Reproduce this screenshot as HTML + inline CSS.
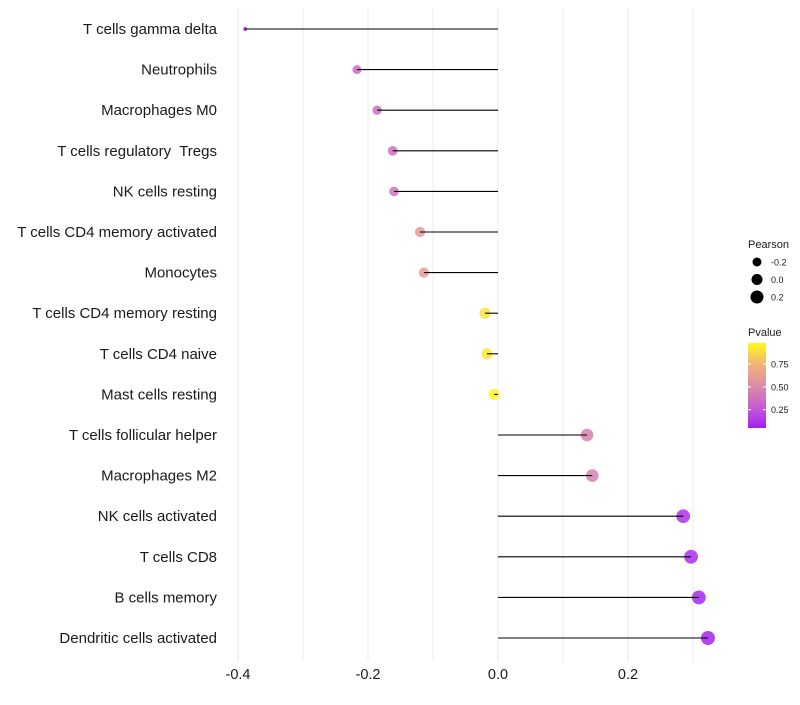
<!DOCTYPE html>
<html><head><meta charset="utf-8"><style>
body{margin:0;background:#fff;font-family:"Liberation Sans",sans-serif}
text{white-space:pre}
</style></head><body>
<svg id="chart" width="800" height="700" xmlns="http://www.w3.org/2000/svg" font-family="Liberation Sans, sans-serif"></svg>
<script>
const categories=["T cells gamma delta","Neutrophils","Macrophages M0","T cells regulatory  Tregs","NK cells resting","T cells CD4 memory activated","Monocytes","T cells CD4 memory resting","T cells CD4 naive","Mast cells resting","T cells follicular helper","Macrophages M2","NK cells activated","T cells CD8","B cells memory","Dendritic cells activated"];
const pearson=[-0.389,-0.217,-0.186,-0.162,-0.160,-0.120,-0.114,-0.020,-0.017,-0.006,0.137,0.145,0.285,0.297,0.309,0.323];
const pvalue=[0.05,0.33,0.36,0.37,0.39,0.6,0.63,0.9,0.92,0.97,0.45,0.45,0.12,0.1,0.08,0.06];
const xTicks=[-0.4,-0.2,0.0,0.2];
const xTickLabels=["-0.4","-0.2","0.0","0.2"];
const gridVals=[-0.4,-0.3,-0.2,-0.1,0,0.1,0.2,0.3];
const sizeLegend=[-0.2,0.0,0.2];
const colorLegend=[0.25,0.5,0.75];

const svg=document.getElementById('chart');
const NS="http://www.w3.org/2000/svg";
function mk(t,a,p){const e=document.createElementNS(NS,t);for(const k in a)e.setAttribute(k,a[k]);(p||svg).appendChild(e);return e;}
const x=v=>498+650*v;
const y=i=>29+i*40.6;
const pmin=Math.min(...pearson),pmax=Math.max(...pearson);
const r=v=>{const t=Math.max(0,(v-pmin)/(pmax-pmin));return 2+5*Math.sqrt(t);};
const stops=[[0.05,[160,32,240]],[0.25,[196,86,214]],[0.5,[218,138,170]],[0.75,[240,180,120]],[0.98,[255,250,30]]];
function col(p){if(p<=stops[0][0])return `rgb(${stops[0][1]})`;for(let i=1;i<stops.length;i++){if(p<=stops[i][0]){const a=stops[i-1],b=stops[i],t=(p-a[0])/(b[0]-a[0]);return `rgb(${a[1].map((c,j)=>Math.round(c+(b[1][j]-c)*t))})`;}}return `rgb(${stops[4][1]})`;}
const py=cy=>343+(0.98-cy)/(0.93)*85;

gridVals.forEach(g=>{const l=mk('line',{x1:x(g),x2:x(g),y1:8,y2:662,stroke:'#ebebeb','stroke-width':1});
});
categories.forEach((c,i)=>{
 const t=mk('text',{x:217,y:y(i)+5,'text-anchor':'end','font-size':15,fill:'#1a1a1a'});t.textContent=c;
 
 const p=mk('circle',{cx:x(pearson[i]),cy:y(i),r:r(pearson[i]),fill:col(pvalue[i]),'fill-opacity':0.85});
 
 const l=mk('line',{x1:x(0),x2:x(pearson[i]),y1:y(i),y2:y(i),stroke:'#000','stroke-width':1.1});
 
});
xTicks.forEach((v,i)=>{const t=mk('text',{x:x(v),y:679,'text-anchor':'middle','font-size':14.5,fill:'#1a1a1a'});t.textContent=xTickLabels[i];
});
// size legend
let t=mk('text',{x:748,y:248,'font-size':11,fill:'#1a1a1a'});t.textContent='Pearson';

const lr=[4.5,5.5,6.5];
sizeLegend.forEach((v,i)=>{const cy=262+i*17.5;
 const c=mk('circle',{cx:757,cy:cy,r:lr[i],fill:'#000'});
 const tt=mk('text',{x:771,y:cy+3.5,'font-size':9,fill:'#1a1a1a'});tt.textContent=v.toFixed(1);
 });
// color legend
t=mk('text',{x:748,y:336,'font-size':11,fill:'#1a1a1a'});t.textContent='Pvalue';

const defs=mk('defs',{});const lg=mk('linearGradient',{id:'g',x1:0,y1:1,x2:0,y2:0},defs);
stops.forEach(s=>mk('stop',{offset:(s[0]-0.05)/0.93,'stop-color':`rgb(${s[1]})`},lg));
const bar=mk('rect',{x:748,y:343,width:18,height:85,fill:'url(#g)'});
colorLegend.forEach(v=>{const yy=py(v);
 mk('line',{x1:748,x2:751,y1:yy,y2:yy,stroke:'#fff'});mk('line',{x1:763,x2:766,y1:yy,y2:yy,stroke:'#fff'});
 const tt=mk('text',{x:771,y:yy+3.5,'font-size':9,fill:'#1a1a1a'});tt.textContent=v.toFixed(2);
 });
</script>
</body></html>
